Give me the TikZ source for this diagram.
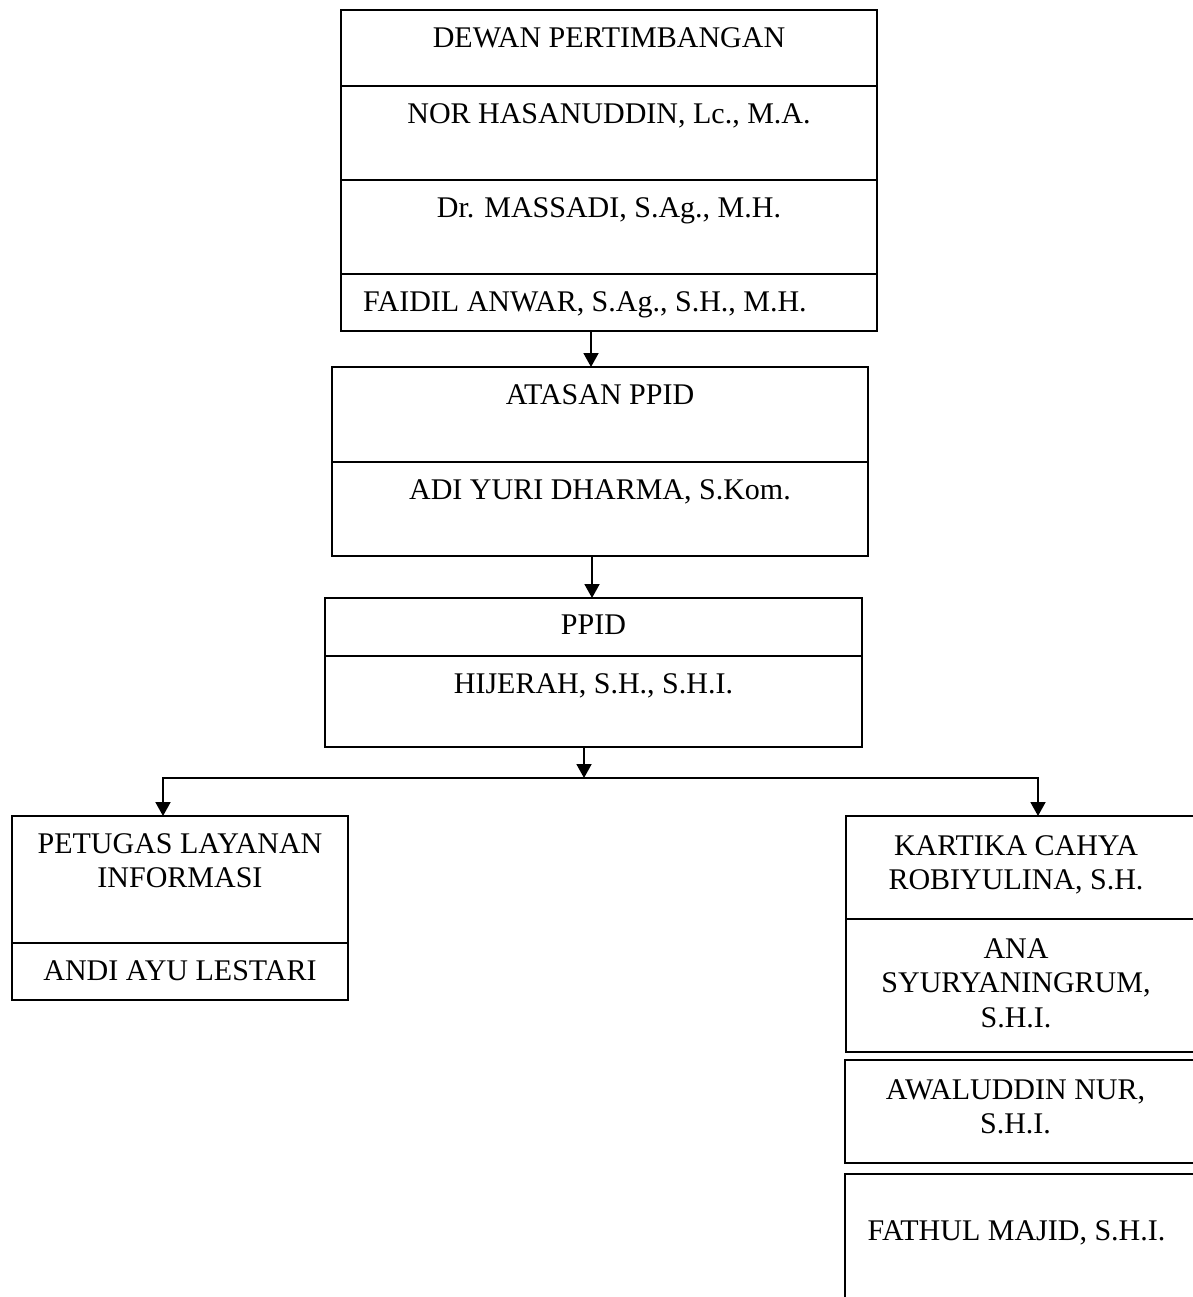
\documentclass[tikz,border=0pt]{standalone}
\usepackage{fontspec}
\setmainfont{Liberation Serif}
\usetikzlibrary{arrows.meta,positioning}

\tikzset{
  cell/.style={draw, line width=1.9pt, inner sep=0pt, outer sep=0pt},
  lbl/.style={anchor=north, inner sep=0pt, align=center, font=\fontsize{30}{34.5}\selectfont},
  arr/.style={line width=1.9pt, -{Triangle[width=15pt,length=14pt]}}
}

\begin{document}
\begin{tikzpicture}[x=1pt,y=-1pt]
  \fill[white] (0,0) rectangle (1192,1297);
  \useasboundingbox (0,0) rectangle (1192,1297);

  \foreach \n/\xa/\ya/\xb/\yb/\dx/\dy/\t in {
    top1/341/10/877/86/0/17/{DEWAN PERTIMBANGAN},
    top2/341/86/877/180/0/17/{NOR HASANUDDIN, Lc., M.A.},
    top3/341/180/877/274/0/17/{Dr. MASSADI, S.Ag., M.H.},
    top4/341/274/877/331/-24/17/{FAIDIL ANWAR, S.Ag., S.H., M.H.},
    ata1/332/367/868/462/0/17/{ATASAN PPID},
    ata2/332/462/868/556/0/17/{ADI YURI DHARMA, S.Kom.},
    ppid1/325/598/862/656/0/17/{PPID},
    ppid2/325/656/862/747/0/17/{HIJERAH, S.H., S.H.I.},
    plk1/12/816/348/943/0/17/{PETUGAS LAYANAN\\INFORMASI},
    plk2/12/943/348/1000/0/17/{ANDI AYU LESTARI},
    kart/846/816/1200/919/-7/19/{KARTIKA CAHYA\\ROBIYULINA, S.H.},
    ana/846/919/1200/1052/-7/19/{ANA\\SYURYANINGRUM,\\S.H.I.},
    awal/845/1060/1200/1163/-7/19/{AWALUDDIN NUR,\\S.H.I.},
    fath/845/1174/1200/1310/-6/46/{FATHUL MAJID, S.H.I.}}{
    \node[cell, minimum width={(\xb-\xa)*1pt}, minimum height={(\yb-\ya)*1pt}]
      (\n) at ({(\xa+\xb)/2},{(\ya+\yb)/2}) {};
    \node[lbl] (\n-t) at ([xshift={\dx*1pt}, yshift={-\dy*1pt}]\n.north) {\t};
  }

  \coordinate (ax1) at (591,0);
  \coordinate (ax2) at (592,0);
  \coordinate (bm) at (584,778);
  \coordinate (bl) at (163,778);
  \coordinate (br) at (1038,778);

  \draw[arr] (top4.south -| ax1) -- (ata1.north -| ax1);
  \draw[arr] (ata2.south -| ax2) -- (ppid1.north -| ax2);
  \draw[arr] (ppid2.south -| bm) -- (bm);
  \draw[arr, {Triangle[width=15pt,length=14pt]}-{Triangle[width=15pt,length=14pt]}]
    (plk1.north -| bl) -- (bl) -- (br) -- (kart.north -| br);

\end{tikzpicture}
\end{document}
